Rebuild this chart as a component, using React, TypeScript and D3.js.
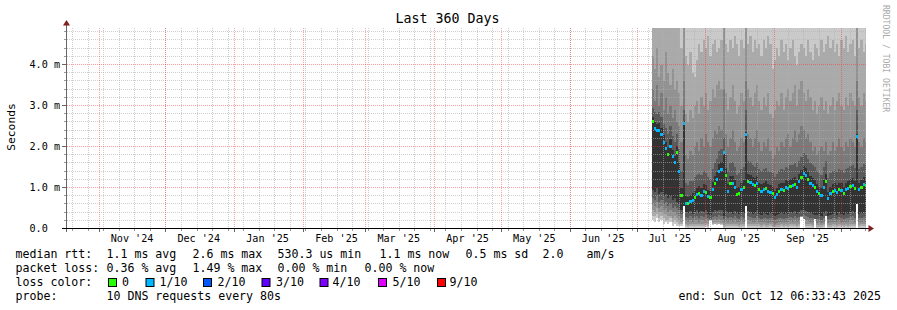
import React from "react";
import * as d3 from "d3";

// ---------- data ----------
const END_TIME = "2025-10-12T06:33:43Z";
const SPAN_DAYS = 360;
const DATA_START = "2025-07-07T18:00:00Z"; // first daily sample

const xTickLabels = ["Nov '24", "Dec '24", "Jan '25", "Feb '25", "Mar '25", "Apr '25", "May '25", "Jun '25", "Jul '25", "Aug '25", "Sep '25"];
const yTickValues = [0, 1, 2, 3, 4];
const yTickLabels = ["0.0", "1.0 m", "2.0 m", "3.0 m", "4.0 m"];

// median rtt (ms), one per day
const median = [
  2.6, 2.45, 2.4, 2.4, 2.3, 2.1, 1.95, 1.8, 2.0, 1.75,
  1.6, 1.85, 1.4, 0.8, 2.55, 0.62, 0.6, 0.65, 0.68, 0.75,
  0.82, 0.86, 0.8, 0.9, 0.88, 0.78, 0.75, 0.95, 1.1, 1.2,
  1.4, 1.45, 1.85, 1.3, 0.9, 1.1, 1.1, 1.0, 0.82, 0.85,
  0.95, 1.0, 2.3, 1.15, 1.12, 1.08, 1.05, 1.1, 0.95, 0.9,
  0.95, 0.98, 0.9, 0.88, 0.85, 0.75, 0.82, 0.9, 0.95, 0.92,
  1.0, 0.98, 1.02, 1.05, 1.08, 1.0, 1.15, 1.25, 1.35, 1.3,
  1.2, 1.1, 1.05, 1.0, 0.9, 0.85, 0.8, 1.0, 1.15, 0.72,
  0.85, 0.9, 0.92, 0.88, 0.95, 0.92, 0.85, 0.95, 0.98, 1.02,
  1.05, 0.98, 2.25, 0.95, 1.0, 1.08, 1.05,
];
// loss level index per day (0 = 0 loss, 1 = 1/10)
const lossIdx = [
  0, 1, 1, 1, 1, 1, 1, 0, 1, 1,
  1, 0, 1, 0, 1, 1, 0, 1, 1, 0,
  1, 0, 1, 1, 0, 1, 0, 1, 0, 1,
  1, 1, 1, 0, 1, 0, 1, 1, 0, 0,
  1, 0, 1, 0, 1, 1, 0, 1, 0, 1,
  1, 0, 1, 1, 0, 1, 1, 0, 1, 0,
  1, 1, 0, 1, 0, 1, 1, 0, 1, 1,
  0, 1, 1, 0, 1, 0, 1, 1, 0, 1,
  1, 0, 1, 1, 0, 1, 0, 1, 1, 0,
  1, 0, 1, 1, 0, 1, 0,
];

// smoke band upper edges (ms), outer -> inner
const up1 = [
  5.0, 5.0, 5.0, 5.0, 5.0, 5.0, 5.0, 5.0, 5.0, 5.0,
  5.0, 5.0, 5.0, 4.4, 5.0, 4.2, 4.0, 4.3, 3.8, 3.7,
  4.1, 4.5, 4.3, 4.6, 4.4, 4.7, 4.2, 4.5, 4.6, 4.3,
  4.4, 4.6, 5.0, 4.5, 4.3, 4.6, 4.4, 4.7, 4.5, 4.2,
  4.6, 4.4, 5.0, 4.5, 4.7, 4.3, 4.6, 4.4, 4.5, 4.2,
  4.6, 4.4, 4.7, 4.5, 3.9, 4.1, 4.4, 4.2, 4.6, 4.3,
  4.5, 4.1, 4.4, 4.6, 4.2, 4.0, 4.3, 4.5, 4.4, 4.2,
  4.6, 4.3, 4.1, 4.5, 4.4, 4.2, 4.6, 4.3, 4.5, 4.7,
  4.4, 4.6, 4.3, 4.5, 4.2, 4.6, 4.4, 4.7, 4.3, 4.5,
  4.6, 4.2, 5.0, 4.4, 4.6, 4.3, 4.5,
];
const up2 = [
  4.2, 3.9, 4.4, 3.7, 4.0, 3.6, 4.3, 3.8, 3.5, 3.9,
  3.4, 3.6, 3.3, 3.0, 5.0, 2.8, 2.6, 2.9, 2.7, 3.0,
  3.1, 2.8, 3.2, 3.0, 3.3, 2.9, 3.1, 3.4, 3.2, 3.5,
  3.6, 3.4, 5.0, 3.3, 2.9, 3.2, 3.5, 3.1, 2.8, 3.0,
  3.3, 3.1, 5.0, 3.4, 3.2, 3.0, 3.3, 3.5, 3.1, 2.9,
  3.2, 3.0, 3.3, 2.8, 2.7, 2.9, 3.1, 3.0, 3.3, 2.9,
  3.2, 3.4, 3.1, 3.3, 3.5, 3.0, 3.4, 3.6, 3.3, 3.1,
  3.4, 3.2, 2.9, 3.1, 2.8, 3.0, 3.2, 2.9, 3.1, 2.8,
  3.0, 3.2, 2.9, 3.1, 3.3, 3.0, 2.9, 3.2, 3.0, 3.3,
  3.1, 3.0, 5.0, 3.2, 3.0, 3.3, 3.1,
];
const up3 = [
  3.4, 3.1, 3.5, 3.0, 3.3, 2.9, 3.2, 2.8, 3.0, 2.7,
  2.9, 2.6, 2.5, 2.1, 3.6, 1.8, 1.7, 1.9, 1.8, 2.0,
  2.1, 1.9, 2.2, 2.0, 2.3, 2.1, 2.0, 2.2, 2.4, 2.3,
  2.5, 2.4, 3.4, 2.3, 2.0, 2.2, 2.4, 2.1, 1.9, 2.0,
  2.2, 2.1, 3.6, 2.3, 2.2, 2.0, 2.2, 2.4, 2.1, 1.9,
  2.1, 2.0, 2.2, 1.9, 1.7, 1.8, 2.0, 1.9, 2.1, 2.0,
  2.2, 2.3, 2.0, 2.2, 2.4, 2.1, 2.3, 2.5, 2.4, 2.2,
  2.3, 2.1, 1.9, 2.0, 1.8, 1.9, 2.0, 1.9, 2.1, 1.8,
  1.9, 2.1, 1.9, 2.0, 2.2, 2.0, 1.9, 2.1, 2.0, 2.2,
  2.1, 2.0, 3.6, 2.1, 2.0, 2.2, 2.1,
];
const up4 = [
  2.95, 2.85, 2.8, 2.85, 2.72, 2.55, 2.45, 2.3, 2.5, 2.25,
  2.1, 2.3, 1.95, 1.4, 2.9, 1.1, 1.05, 1.15, 1.15, 1.25,
  1.3, 1.32, 1.3, 1.4, 1.35, 1.25, 1.2, 1.45, 1.6, 1.7,
  1.9, 1.95, 2.2, 1.8, 1.4, 1.6, 1.62, 1.5, 1.3, 1.35,
  1.45, 1.5, 2.9, 1.65, 1.62, 1.55, 1.5, 1.6, 1.45, 1.4,
  1.45, 1.48, 1.4, 1.38, 1.35, 1.25, 1.32, 1.4, 1.45, 1.42,
  1.5, 1.48, 1.55, 1.55, 1.6, 1.5, 1.65, 1.75, 1.85, 1.8,
  1.7, 1.6, 1.55, 1.5, 1.4, 1.35, 1.3, 1.5, 1.65, 1.22,
  1.35, 1.4, 1.42, 1.38, 1.45, 1.42, 1.35, 1.45, 1.48, 1.52,
  1.55, 1.48, 2.9, 1.45, 1.5, 1.58, 1.55,
];
const up5 = [
  2.72, 2.6, 2.55, 2.58, 2.45, 2.28, 2.12, 1.98, 2.18, 1.92,
  1.78, 2.02, 1.6, 1.0, 2.62, 0.8, 0.76, 0.82, 0.86, 0.92,
  1.0, 1.04, 0.98, 1.08, 1.06, 0.95, 0.92, 1.14, 1.28, 1.38,
  1.58, 1.62, 1.9, 1.48, 1.08, 1.28, 1.28, 1.18, 1.0, 1.02,
  1.12, 1.18, 2.35, 1.32, 1.3, 1.25, 1.22, 1.28, 1.12, 1.08,
  1.12, 1.15, 1.08, 1.05, 1.02, 0.92, 1.0, 1.08, 1.12, 1.1,
  1.18, 1.15, 1.2, 1.22, 1.26, 1.18, 1.32, 1.42, 1.52, 1.48,
  1.38, 1.28, 1.22, 1.18, 1.08, 1.02, 0.98, 1.18, 1.32, 0.9,
  1.02, 1.08, 1.1, 1.05, 1.12, 1.1, 1.02, 1.12, 1.16, 1.2,
  1.22, 1.15, 2.3, 1.12, 1.18, 1.25, 1.22,
];
// smoke band lower edges (ms), outer -> inner
const lo0 = [
  0.2, 0.15, 0.25, 0.15, 0.2, 0.1, 0.15, 0.1, 0.15, 0.05,
  0.1, 0.05, 0.05, 0.05, 0.55, 0.02, 0.01, 0.02, 0.01, 0.02,
  0.02, 0.02, 0.02, 0.02, 0.03, 0.02, 0.2, 0.08, 0.1, 0.08,
  0.1, 0.08, 0.02, 0.02, 0.02, 0.02, 0.02, 0.02, 0.02, 0.01,
  0.02, 0.02, 0.55, 0.02, 0.02, 0.02, 0.02, 0.02, 0.02, 0.01,
  0.02, 0.01, 0.01, 0.02, 0.01, 0.01, 0.01, 0.01, 0.02, 0.01,
  0.02, 0.01, 0.02, 0.02, 0.02, 0.01, 0.02, 0.27, 0.27, 0.02,
  0.02, 0.02, 0.01, 0.25, 0.01, 0.01, 0.01, 0.02, 0.35, 0.01,
  0.01, 0.02, 0.02, 0.01, 0.02, 0.02, 0.01, 0.02, 0.01, 0.02,
  0.02, 0.02, 0.6, 0.01, 0.02, 0.02, 0.02,
];
const lo1 = [
  0.3, 0.3, 0.35, 0.25, 0.3, 0.25, 0.2, 0.2, 0.25, 0.15,
  0.2, 0.15, 0.1, 0.1, 0.55, 0.05, 0.04, 0.06, 0.05, 0.05,
  0.06, 0.05, 0.06, 0.05, 0.08, 0.06, 0.2, 0.1, 0.12, 0.1,
  0.12, 0.1, 0.04, 0.05, 0.05, 0.06, 0.05, 0.06, 0.05, 0.04,
  0.05, 0.05, 0.55, 0.06, 0.05, 0.05, 0.05, 0.06, 0.05, 0.04,
  0.05, 0.04, 0.04, 0.05, 0.03, 0.03, 0.04, 0.04, 0.05, 0.04,
  0.05, 0.04, 0.05, 0.05, 0.06, 0.04, 0.05, 0.27, 0.27, 0.06,
  0.05, 0.05, 0.04, 0.25, 0.04, 0.04, 0.04, 0.05, 0.35, 0.04,
  0.04, 0.05, 0.05, 0.04, 0.05, 0.05, 0.04, 0.05, 0.04, 0.05,
  0.06, 0.05, 0.6, 0.04, 0.05, 0.05, 0.05,
];
const lo2 = [
  0.45, 0.4, 0.5, 0.4, 0.4, 0.35, 0.35, 0.3, 0.3, 0.25,
  0.3, 0.25, 0.2, 0.15, 0.55, 0.1, 0.08, 0.12, 0.1, 0.1,
  0.12, 0.1, 0.12, 0.1, 0.14, 0.12, 0.2, 0.14, 0.16, 0.15,
  0.16, 0.14, 0.08, 0.1, 0.1, 0.12, 0.1, 0.12, 0.1, 0.08,
  0.1, 0.1, 0.55, 0.12, 0.1, 0.1, 0.1, 0.12, 0.1, 0.08,
  0.1, 0.09, 0.08, 0.1, 0.07, 0.07, 0.08, 0.09, 0.1, 0.08,
  0.1, 0.09, 0.1, 0.1, 0.12, 0.09, 0.1, 0.28, 0.27, 0.12,
  0.1, 0.1, 0.09, 0.25, 0.08, 0.09, 0.08, 0.1, 0.35, 0.08,
  0.09, 0.1, 0.1, 0.09, 0.1, 0.1, 0.09, 0.1, 0.09, 0.1,
  0.12, 0.1, 0.6, 0.09, 0.1, 0.1, 0.1,
];
const lo3 = [
  0.6, 0.55, 0.65, 0.5, 0.55, 0.45, 0.5, 0.4, 0.45, 0.4,
  0.4, 0.35, 0.3, 0.25, 0.55, 0.18, 0.16, 0.2, 0.16, 0.18,
  0.2, 0.16, 0.2, 0.18, 0.22, 0.18, 0.2, 0.2, 0.22, 0.2,
  0.22, 0.2, 0.15, 0.18, 0.16, 0.18, 0.16, 0.2, 0.16, 0.15,
  0.18, 0.16, 0.55, 0.2, 0.18, 0.16, 0.17, 0.2, 0.16, 0.15,
  0.16, 0.15, 0.14, 0.16, 0.13, 0.12, 0.14, 0.15, 0.16, 0.15,
  0.16, 0.15, 0.18, 0.16, 0.2, 0.15, 0.18, 0.3, 0.22, 0.2,
  0.18, 0.16, 0.15, 0.25, 0.14, 0.15, 0.13, 0.16, 0.36, 0.14,
  0.15, 0.16, 0.16, 0.15, 0.18, 0.16, 0.15, 0.16, 0.15, 0.18,
  0.2, 0.16, 0.6, 0.15, 0.16, 0.18, 0.16,
];
const lo4 = [
  0.75, 0.7, 0.8, 0.65, 0.7, 0.6, 0.65, 0.55, 0.6, 0.5,
  0.55, 0.5, 0.45, 0.35, 0.55, 0.28, 0.26, 0.3, 0.25, 0.28,
  0.3, 0.26, 0.3, 0.28, 0.32, 0.26, 0.24, 0.28, 0.3, 0.28,
  0.32, 0.3, 0.22, 0.28, 0.26, 0.28, 0.25, 0.3, 0.26, 0.24,
  0.28, 0.26, 0.55, 0.3, 0.28, 0.25, 0.26, 0.3, 0.25, 0.24,
  0.26, 0.25, 0.24, 0.26, 0.22, 0.2, 0.24, 0.25, 0.26, 0.24,
  0.26, 0.25, 0.28, 0.26, 0.3, 0.25, 0.28, 0.3, 0.32, 0.3,
  0.28, 0.26, 0.25, 0.24, 0.22, 0.24, 0.2, 0.26, 0.3, 0.22,
  0.24, 0.25, 0.26, 0.24, 0.28, 0.25, 0.24, 0.26, 0.25, 0.28,
  0.3, 0.26, 0.6, 0.25, 0.26, 0.28, 0.26,
];
const lo5 = [
  0.95, 0.9, 1.0, 0.85, 0.9, 0.8, 0.85, 0.75, 0.8, 0.7,
  0.75, 0.65, 0.6, 0.45, 0.55, 0.4, 0.38, 0.42, 0.36, 0.4,
  0.44, 0.38, 0.42, 0.4, 0.45, 0.36, 0.34, 0.4, 0.44, 0.42,
  0.46, 0.44, 0.3, 0.42, 0.38, 0.4, 0.36, 0.42, 0.38, 0.35,
  0.4, 0.38, 0.55, 0.42, 0.4, 0.36, 0.38, 0.42, 0.36, 0.34,
  0.38, 0.36, 0.34, 0.38, 0.32, 0.3, 0.34, 0.36, 0.38, 0.35,
  0.38, 0.36, 0.4, 0.38, 0.42, 0.36, 0.4, 0.44, 0.46, 0.42,
  0.4, 0.38, 0.36, 0.34, 0.32, 0.35, 0.3, 0.38, 0.42, 0.3,
  0.34, 0.36, 0.38, 0.34, 0.4, 0.36, 0.34, 0.38, 0.36, 0.4,
  0.42, 0.38, 0.6, 0.36, 0.38, 0.4, 0.38,
];

const lossLabels = ["0", "1/10", "2/10", "3/10", "4/10", "5/10", "9/10"];
const lossColors = ["#26ff00", "#00b8ff", "#0059ff", "#5e00ff", "#7e00ff", "#dd00ff", "#ff0000"];

const smokeColors = ["#cacaca", "#aaaaaa", "#929292", "#7a7a7a", "#5a5a5a", "#333333"];

const FONT = "'DejaVu Sans Mono', monospace";

export default function App() {
  const end = new Date(END_TIME);
  const start = new Date(end.getTime() - SPAN_DAYS * 86400000);
  const x = d3.scaleUtc().domain([start, end]).range([66, 866]);
  const y = d3.scaleLinear().domain([0, 200 / 41]).range([228.5, 28.5]);

  const n = median.length;
  const dStart = new Date(DATA_START);
  const dates = d3.range(n).map((i) => d3.utcDay.offset(dStart, i));
  const pts = d3.range(n + 1).map((i) => ({ t: i < n ? dates[i] : end, i: Math.min(i, n - 1) }));

  const bands: { lo: number[]; hi: number[] | null; color: string }[] = [
    { lo: lo0, hi: null, color: smokeColors[0] },
    { lo: lo1, hi: up1, color: smokeColors[1] },
    { lo: lo2, hi: up2, color: smokeColors[2] },
    { lo: lo3, hi: up3, color: smokeColors[3] },
    { lo: lo4, hi: up4, color: smokeColors[4] },
    { lo: lo5, hi: up5, color: smokeColors[5] },
  ];
  const bandPath = (lo: number[], hi: number[] | null) =>
    d3
      .area<{ t: Date; i: number }>()
      .curve(d3.curveStepAfter)
      .x((p) => x(p.t))
      .y0((p) => y(lo[p.i]))
      .y1((p) => (hi ? y(hi[p.i]) : 20))(pts) || "";

  const weeks = d3.utcSunday.range(start, end);
  const months = d3.utcMonth.range(d3.utcMonth.ceil(start), end);
  const labelMonths = months.slice(0, xTickLabels.length);
  const minorY = d3.range(1, 25).map((k) => k * 0.2).filter((v) => Math.abs(v - Math.round(v)) > 1e-6);
  const majorY = yTickValues.filter((v) => v > 0);
  const px = (v: number) => Math.round(v) + 0.5;
  const py = (v: number) => Math.round(y(v) - 0.5) + 0.5;

  const gridMinor = "rgba(175,175,175,0.6)";
  const gridMajor = "rgba(255,40,40,0.45)";
  const arrow = "#7f1f1f";

  return (
    <svg
      width={897}
      height={310}
      style={{ position: "absolute", left: 0, top: 0, background: "#fff" }}
      fontFamily={FONT}
    >
      <rect x={0} y={0} width={897} height={310} fill="#fff" />
      <defs>
        <clipPath id="plotclip">
          <rect x={66} y={28} width={800} height={200.5} />
        </clipPath>
      </defs>

      <g clipPath="url(#plotclip)" shapeRendering="crispEdges">
        {bands.map((b, k) => (
          <path key={k} d={bandPath(b.lo, b.hi)} fill={b.color} />
        ))}
      </g>

      {/* minor grid */}
      <g stroke={gridMinor} strokeWidth={1} strokeDasharray="1,1" shapeRendering="crispEdges">
        {weeks.map((w, k) => (
          <line key={"w" + k} x1={px(x(w))} x2={px(x(w))} y1={28} y2={228} />
        ))}
        {minorY.map((v, k) => (
          <line key={"h" + k} x1={67} x2={866} y1={py(v)} y2={py(v)} />
        ))}
      </g>
      {/* major grid */}
      <g stroke={gridMajor} strokeWidth={1} strokeDasharray="1,1" shapeRendering="crispEdges">
        {months.map((m, k) => (
          <line key={"m" + k} x1={px(x(m))} x2={px(x(m))} y1={28} y2={228} />
        ))}
        {majorY.map((v, k) => (
          <line key={"M" + k} x1={67} x2={866} y1={py(v)} y2={py(v)} />
        ))}
      </g>

      {/* median, coloured by loss */}
      <g clipPath="url(#plotclip)" shapeRendering="crispEdges">
        {median.map((v, i) => {
          const x0 = x(dates[i]);
          const x1 = x(i + 1 < n ? dates[i + 1] : end);
          return (
            <rect
              key={"r" + i}
              x={x0}
              y={y(v) - 1.5}
              width={Math.max(1.5, x1 - x0)}
              height={3}
              fill={lossColors[lossIdx[i]]}
            />
          );
        })}
      </g>

      {/* axes */}
      <g shapeRendering="crispEdges">
        <line x1={66.5} x2={66.5} y1={24} y2={232} stroke="#666" strokeWidth={1} />
        <line x1={62} x2={869} y1={228.5} y2={228.5} stroke="#000" strokeWidth={1} />
        {minorY.map((v, k) => (
          <line key={"yt" + k} x1={64} x2={66} y1={py(v)} y2={py(v)} stroke="#999" />
        ))}
        {majorY.map((v, k) => (
          <line key={"yT" + k} x1={62} x2={66} y1={py(v)} y2={py(v)} stroke="#666" />
        ))}
        {weeks.map((w, k) => (
          <line key={"xt" + k} x1={px(x(w))} x2={px(x(w))} y1={229} y2={231} stroke="#999" />
        ))}
        {months.map((m, k) => (
          <line key={"xT" + k} x1={px(x(m))} x2={px(x(m))} y1={229} y2={232} stroke="#666" />
        ))}
      </g>
      <path d="M66.5,20 L63,25.5 L70,25.5 Z" fill={arrow} />
      <path d="M874,228.5 L868.5,225 L868.5,232 Z" fill={arrow} />

      {/* y labels */}
      {yTickValues.map((v, k) => (
        <text
          key={"yl" + k}
          x={v === 0 ? 60 - 2 * 6.11 : 60}
          y={y(v) + 3}
          fontSize={10.15}
          textAnchor="end"
          fill="#000"
        >
          {yTickLabels[k]}
        </text>
      ))}
      {/* x labels */}
      {labelMonths.map((m, k) => (
        <text key={"xl" + k} x={x(d3.utcDay.offset(m, 15))} y={242} fontSize={10.15} textAnchor="middle" fill="#000">
          {xTickLabels[k]}
        </text>
      ))}

      {/* title, unit, watermark */}
      <text x={447.5} y={23} fontSize={13.3} textAnchor="middle" fill="#000">
        Last 360 Days
      </text>
      <text transform="translate(15,127) rotate(-90)" fontSize={11.3} textAnchor="middle" fill="#000">
        Seconds
      </text>
      <text transform="translate(883,5) rotate(90)" fontSize={8.1} fill="#aaa">
        RRDTOOL / TOBI OETIKER
      </text>

      {/* legend */}
      <g fontSize={11.6} fill="#000" style={{ whiteSpace: "pre" }}>
        <text x={15.5} y={258}>median rtt:</text>
        <text x={106.5} y={258}>1.1 ms avg</text>
        <text x={192.5} y={258}>2.6 ms max</text>
        <text x={277.5} y={258}>530.3 us min</text>
        <text x={379.5} y={258}>1.1 ms now</text>
        <text x={465.5} y={258}>0.5 ms sd</text>
        <text x={542.5} y={258}>2.0</text>
        <text x={586.5} y={258}>am/s</text>

        <text x={15.5} y={272}>packet loss:</text>
        <text x={106.5} y={272}>0.36 % avg</text>
        <text x={192.5} y={272}>1.49 % max</text>
        <text x={277.5} y={272}>0.00 % min</text>
        <text x={364.5} y={272}>0.00 % now</text>

        <text x={15.5} y={286}>loss color:</text>
        {lossLabels.map((l, k) => {
          const sx = [108.5, 146, 203.5, 262, 320, 378.5, 437.5][k];
          const tx = [122, 159.5, 217.5, 276, 332.5, 392.5, 449.5][k];
          return (
            <g key={"lg" + k}>
              <rect x={sx} y={278.5} width={8} height={8} fill={lossColors[k]} stroke="#000" strokeWidth={1} />
              <text x={tx} y={286}>{l}</text>
            </g>
          );
        })}

        <text x={15.5} y={300}>probe:</text>
        <text x={106.5} y={300}>10 DNS requests every 80s</text>
        <text x={881} y={300} textAnchor="end">end: Sun Oct 12 06:33:43 2025</text>
      </g>
    </svg>
  );
}
